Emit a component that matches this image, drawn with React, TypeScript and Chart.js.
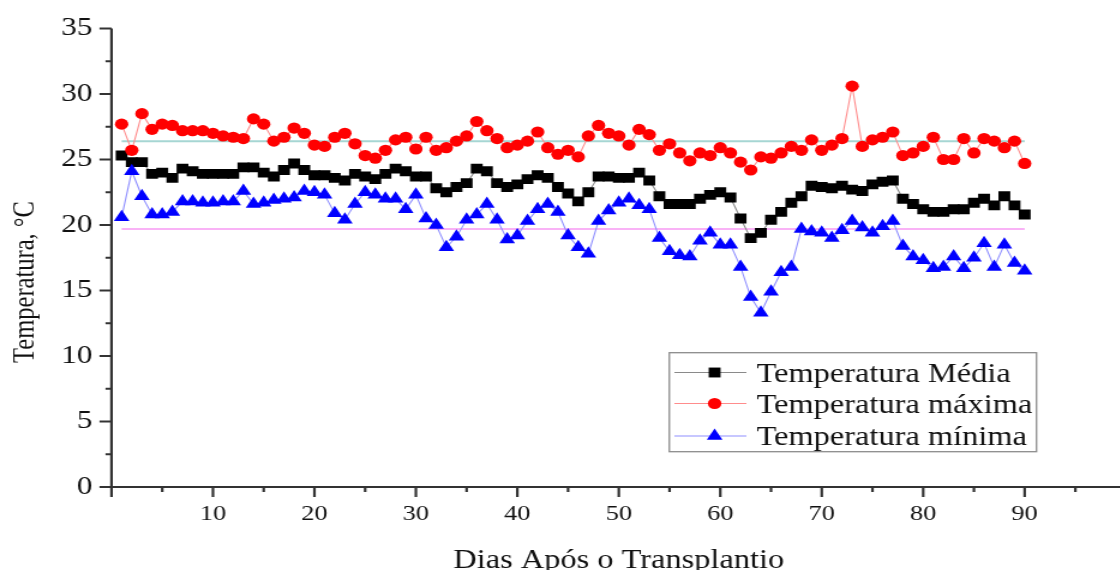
import React, { useEffect, useRef } from "react";
import { Chart, registerables } from "chart.js";

Chart.register(...registerables);

// ---- data (day after transplant 1..90) ----
const days: number[] = Array.from({ length: 90 }, (_, i) => i + 1);

const tempMedia: number[] = [
  25.3, 24.8, 24.8, 23.9, 24.0, 23.6, 24.3, 24.1, 23.9, 23.9, 23.9, 23.9, 24.4, 24.4, 24.0, 23.7, 24.2, 24.7, 24.2, 23.8,
  23.8, 23.6, 23.4, 23.9, 23.7, 23.5, 23.9, 24.3, 24.1, 23.7, 23.7, 22.8, 22.5, 22.9, 23.2, 24.3, 24.1, 23.2, 22.9, 23.1,
  23.5, 23.8, 23.6, 22.9, 22.4, 21.8, 22.5, 23.7, 23.7, 23.6, 23.6, 24.0, 23.4, 22.2, 21.6, 21.6, 21.6, 22.0, 22.3, 22.5,
  22.1, 20.5, 19.0, 19.4, 20.4, 21.0, 21.7, 22.2, 23.0, 22.9, 22.8, 23.0, 22.7, 22.6, 23.1, 23.3, 23.4, 22.0, 21.6, 21.2,
  21.0, 21.0, 21.2, 21.2, 21.7, 22.0, 21.5, 22.2, 21.5, 20.8,
];

const tempMax: number[] = [
  27.7, 25.7, 28.5, 27.3, 27.7, 27.6, 27.2, 27.2, 27.2, 27.0, 26.8, 26.7, 26.6, 28.1, 27.7, 26.4, 26.7, 27.4, 27.0, 26.1,
  26.0, 26.7, 27.0, 26.2, 25.3, 25.1, 25.7, 26.5, 26.7, 25.8, 26.7, 25.7, 25.9, 26.4, 26.8, 27.9, 27.2, 26.6, 25.9, 26.1,
  26.4, 27.1, 25.9, 25.4, 25.7, 25.2, 26.8, 27.6, 27.0, 26.8, 26.1, 27.3, 26.9, 25.7, 26.2, 25.5, 24.9, 25.5, 25.3, 25.9,
  25.5, 24.8, 24.2, 25.2, 25.1, 25.5, 26.0, 25.7, 26.5, 25.7, 26.1, 26.6, 30.6, 26.0, 26.5, 26.7, 27.1, 25.3, 25.5, 26.0,
  26.7, 25.0, 25.0, 26.6, 25.5, 26.6, 26.4, 25.9, 26.4, 24.7,
];

const tempMin: number[] = [
  20.6, 24.1, 22.2, 20.8, 20.8, 21.0, 21.8, 21.8, 21.7, 21.7, 21.8, 21.8, 22.6, 21.6, 21.7, 21.9, 22.0, 22.1, 22.6, 22.5,
  22.3, 20.9, 20.4, 21.6, 22.5, 22.3, 22.0, 22.0, 21.2, 22.3, 20.5, 20.0, 18.3, 19.1, 20.4, 20.8, 21.6, 20.4, 18.9, 19.2,
  20.3, 21.2, 21.6, 21.0, 19.2, 18.3, 17.8, 20.3, 21.1, 21.7, 22.0, 21.5, 21.2, 19.0, 18.0, 17.7, 17.6, 18.8, 19.4, 18.5,
  18.5, 16.8, 14.5, 13.3, 14.9, 16.4, 16.8, 19.7, 19.5, 19.4, 19.0, 19.6, 20.3, 19.8, 19.4, 19.9, 20.3, 18.4, 17.6, 17.3,
  16.7, 16.8, 17.6, 16.7, 17.5, 18.6, 16.8, 18.5, 17.1, 16.5,
];

const meanMaxLine = 26.4;
const meanMinLine = 19.7;

const seriesLabels: string[] = ["Temperatura Média", "Temperatura máxima", "Temperatura mínima"];
const xTickLabels: number[] = [10, 20, 30, 40, 50, 60, 70, 80, 90];
const xTitle = "Dias Após o Transplantio";
const yTitle = "Temperatura, °C";

// ---- rendering constants ----
const SX = 1.2; // horizontal stretch of the picture
const W = 940;
const H = 570;
const X_MAX = 99.3;
const FONT = "'Liberation Serif', 'Times New Roman', serif";
const AXIS = "#333333";

const styles = [
  { line: "#8a8a8a", fill: "#000000", pointStyle: "rect", radius: 7 },
  { line: "#ff8c8c", fill: "#ff0000", pointStyle: "circle", radius: 5.6 },
  { line: "#9090ff", fill: "#0000ff", pointStyle: "triangle", radius: 7.5 },
];

const decorPlugin = {
  id: "decor",
  afterDraw(chart: any) {
    const { ctx, chartArea, scales } = chart;
    const x = scales.x;
    const y = scales.y;
    ctx.save();
    // axis lines
    ctx.strokeStyle = AXIS;
    ctx.lineWidth = 2.2;
    ctx.beginPath();
    ctx.moveTo(chartArea.left, y.getPixelForValue(35));
    ctx.lineTo(chartArea.left, chartArea.bottom);
    ctx.lineTo(W, chartArea.bottom);
    ctx.stroke();
    // x ticks
    for (let v = 0; v <= X_MAX; v += 5) {
      const px = x.getPixelForValue(v);
      const len = v % 10 === 0 ? 10 : 5;
      ctx.beginPath();
      ctx.moveTo(px, chartArea.bottom);
      ctx.lineTo(px, chartArea.bottom + len);
      ctx.stroke();
    }
    // y ticks
    ctx.lineWidth = 2;
    for (let v = 0; v <= 35; v += 2.5) {
      const py = y.getPixelForValue(v);
      const len = v % 5 === 0 ? 10 : 5;
      ctx.beginPath();
      ctx.moveTo(chartArea.left, py);
      ctx.lineTo(chartArea.left - len, py);
      ctx.stroke();
    }
    // axis titles
    ctx.fillStyle = "#111";
    ctx.font = `27px ${FONT}`;
    ctx.textAlign = "center";
    ctx.textBaseline = "alphabetic";
    ctx.fillText(xTitle, x.getPixelForValue(50), 568);
    ctx.save();
    ctx.translate(27.5, 282);
    ctx.rotate(-Math.PI / 2);
    ctx.font = `24.5px ${FONT}`;
    ctx.fillText(yTitle, 0, 0);
    ctx.restore();

    // legend
    const bx = 557.75, by = 352.7, bw = 306, bh = 99;
    ctx.fillStyle = "#ffffff";
    ctx.fillRect(bx, by, bw, bh);
    ctx.strokeStyle = "#8c8c8c";
    ctx.lineWidth = 1.3;
    ctx.strokeRect(bx, by, bw, bh);
    const rows = [372.5, 403.5, 436];
    seriesLabels.forEach((label, i) => {
      const st = styles[i];
      const cy = rows[i];
      ctx.strokeStyle = st.line;
      ctx.lineWidth = 1.2;
      ctx.beginPath();
      ctx.moveTo(562, cy);
      ctx.lineTo(622, cy);
      ctx.stroke();
      ctx.fillStyle = st.fill;
      ctx.beginPath();
      const mx = 595.5;
      if (st.pointStyle === "rect") {
        const s = st.radius * Math.SQRT1_2;
        ctx.rect(mx - s, cy - s, 2 * s, 2 * s);
      } else if (st.pointStyle === "circle") {
        ctx.arc(mx, cy, st.radius, 0, Math.PI * 2);
      } else {
        const r = st.radius;
        const h = (r * Math.sqrt(3)) / 2;
        ctx.moveTo(mx, cy - r);
        ctx.lineTo(mx + h, cy + r / 2);
        ctx.lineTo(mx - h, cy + r / 2);
        ctx.closePath();
      }
      ctx.fill();
      ctx.fillStyle = "#111";
      ctx.font = `27px ${FONT}`;
      ctx.textAlign = "left";
      ctx.textBaseline = "alphabetic";
      ctx.fillText(label, 630.5, cy + 9);
    });
    ctx.restore();
  },
};

export default function App() {
  const ref = useRef<HTMLCanvasElement | null>(null);

  useEffect(() => {
    if (!ref.current) return;
    const series = [tempMedia, tempMax, tempMin];
    const datasets: any[] = series.map((vals, i) => ({
      label: seriesLabels[i],
      data: days.map((d, k) => ({ x: d, y: vals[k] })),
      borderColor: styles[i].line,
      borderWidth: 1.1,
      backgroundColor: styles[i].fill,
      pointBackgroundColor: styles[i].fill,
      pointBorderWidth: 0,
      pointStyle: styles[i].pointStyle,
      pointRadius: styles[i].radius,
      tension: 0,
      order: 3 - i,
    }));
    datasets.push({
      label: "ref max",
      data: [
        { x: days[0], y: meanMaxLine },
        { x: days[days.length - 1], y: meanMaxLine },
      ],
      borderColor: "#a6d6d3",
      borderWidth: 2,
      pointRadius: 0,
      order: 10,
    });
    datasets.push({
      label: "ref min",
      data: [
        { x: days[0], y: meanMinLine },
        { x: days[days.length - 1], y: meanMinLine },
      ],
      borderColor: "#f9b2f6",
      borderWidth: 2,
      pointRadius: 0,
      order: 10,
    });

    const chart = new Chart(ref.current, {
      type: "line",
      data: { datasets },
      options: {
        responsive: false,
        animation: false,
        devicePixelRatio: 1,
        layout: { padding: { top: 28.5, right: 1.25, left: 0, bottom: 0 } },
        plugins: { legend: { display: false }, tooltip: { enabled: false } },
        scales: {
          x: {
            type: "linear",
            min: 0,
            max: X_MAX,
            grid: { display: false, drawTicks: false },
            border: { display: false },
            afterFit: (s: any) => {
              s.height = 83;
              s.paddingLeft = 0;
              s.paddingRight = 0;
            },
            ticks: {
              stepSize: 5,
              autoSkip: false,
              maxRotation: 0,
              padding: 14,
              color: "#111",
              font: { family: FONT, size: 22 },
              callback: (v: any) => (xTickLabels.includes(Number(v)) ? String(v) : ""),
            },
          },
          y: {
            min: 0,
            max: 35,
            grid: { display: false, drawTicks: false },
            border: { display: false },
            afterFit: (s: any) => {
              s.width = 92.9;
              s.paddingTop = 0;
              s.paddingBottom = 0;
            },
            ticks: {
              stepSize: 5,
              padding: 16,
              color: "#111",
              font: { family: FONT, size: 26 },
            },
          },
        },
      },
      plugins: [decorPlugin],
    });
    return () => chart.destroy();
  }, []);

  return (
    <div
      style={{
        position: "fixed",
        left: 0,
        top: 0,
        width: 1120,
        height: 570,
        overflow: "hidden",
        background: "#ffffff",
      }}
    >
      <canvas
        ref={ref}
        width={W}
        height={H}
        style={{ width: `${W * SX}px`, height: `${H}px`, display: "block" }}
      />
    </div>
  );
}
